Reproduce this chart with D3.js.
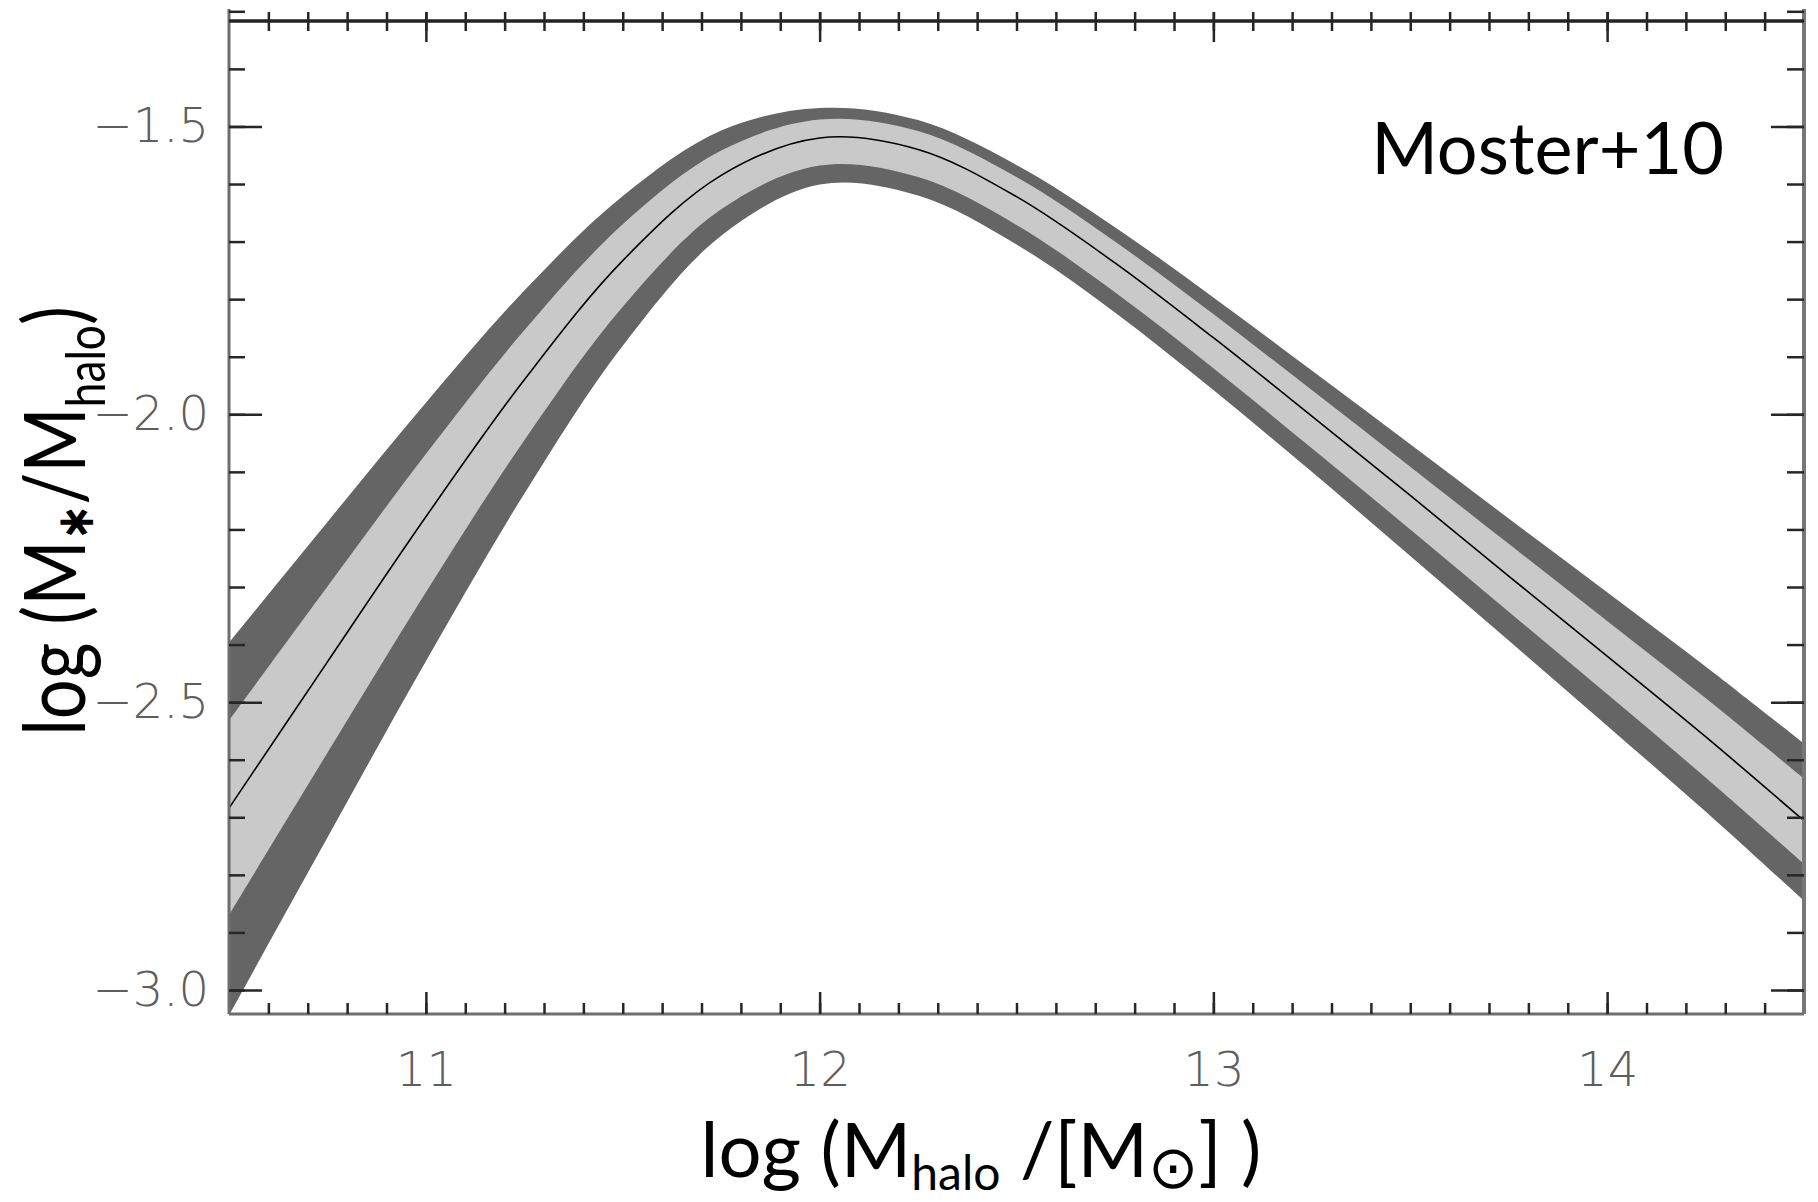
<!DOCTYPE html>
<html>
<head>
<meta charset="utf-8">
<script src="https://cdn.jsdelivr.net/npm/d3@7"></script>
<style>
  html, body { margin: 0; padding: 0; background: #fff; }
  svg { display: block; }
</style>
</head>
<body>
<div id="chart"></div>
<script>
// Halo mass grid (log M_halo) and the read-off stellar-to-halo mass relation
const logMhalo = [10.5, 10.75, 11.0, 11.25, 11.5, 11.75, 12.0, 12.25, 12.5,
                  12.75, 13.0, 13.25, 13.5, 13.75, 14.0, 14.25, 14.5];
const ratioMedian = [-2.684, -2.430, -2.178, -1.940, -1.733, -1.585, -1.520, -1.540, -1.622,
                     -1.737, -1.867, -2.003, -2.141, -2.281, -2.420, -2.560, -2.706];
// light band (inner)
const innerUpper = [-2.532, -2.299, -2.069, -1.854, -1.670, -1.542, -1.488, -1.508, -1.588,
                    -1.700, -1.826, -1.958, -2.091, -2.225, -2.359, -2.493, -2.633];
const innerLower = [-2.870, -2.588, -2.309, -2.045, -1.813, -1.644, -1.568, -1.588, -1.671,
                    -1.788, -1.920, -2.059, -2.200, -2.343, -2.486, -2.631, -2.781];
// dark band (outer)
const outerUpper = [-2.397, -2.187, -1.980, -1.785, -1.621, -1.507, -1.468, -1.489, -1.567,
                    -1.675, -1.797, -1.924, -2.052, -2.181, -2.309, -2.438, -2.572];
const outerLower = [-3.044, -2.735, -2.429, -2.138, -1.881, -1.690, -1.601, -1.620, -1.705,
                    -1.823, -1.958, -2.100, -2.246, -2.393, -2.541, -2.690, -2.845];

const xMajorTicks = [11, 12, 13, 14];
const xTickLabels = ["11", "12", "13", "14"];
const yMajorTicks = [-3.0, -2.5, -2.0, -1.5];
const yTickLabels = ["\u22123.0", "\u22122.5", "\u22122.0", "\u22121.5"];
const label = "Moster+10";

const width = 1818, height = 1202;
const plotLeft = 229, plotRight = 1804, plotTop = 9, plotBottom = 1014, topAxisY = 21;

const svg = d3.select("#chart").append("svg")
    .attr("width", width)
    .attr("height", height);

const x = d3.scaleLinear().domain([10.5, 14.5]).range([plotLeft, plotRight]);
const y = d3.scaleLinear().domain([-3.0417, -1.296]).range([plotBottom, plotTop]);

const rows = logMhalo.map((m, i) => ({
  m, med: ratioMedian[i],
  iu: innerUpper[i], il: innerLower[i],
  ou: outerUpper[i], ol: outerLower[i]
}));

svg.append("clipPath").attr("id", "plot-clip")
  .append("rect")
    .attr("x", plotLeft).attr("y", topAxisY)
    .attr("width", plotRight - plotLeft).attr("height", plotBottom - topAxisY);

const plot = svg.append("g").attr("clip-path", "url(#plot-clip)");
const curve = d3.curveCatmullRom.alpha(0.5);

plot.append("path")
    .datum(rows)
    .attr("fill", "#656565")
    .attr("d", d3.area().x(d => x(d.m)).y0(d => y(d.ol)).y1(d => y(d.ou)).curve(curve));

plot.append("path")
    .datum(rows)
    .attr("fill", "#c9c9c9")
    .attr("d", d3.area().x(d => x(d.m)).y0(d => y(d.il)).y1(d => y(d.iu)).curve(curve));

plot.append("path")
    .datum(rows)
    .attr("fill", "none")
    .attr("stroke", "#000")
    .attr("stroke-width", 1.6)
    .attr("d", d3.line().x(d => x(d.m)).y(d => y(d.med)).curve(curve));

// frame
const frame = svg.append("g");
frame.append("line").attr("x1", plotLeft).attr("x2", plotLeft).attr("y1", plotTop).attr("y2", plotBottom)
    .attr("stroke", "#6e6e6e").attr("stroke-width", 3);
frame.append("line").attr("x1", plotRight).attr("x2", plotRight).attr("y1", plotTop).attr("y2", plotBottom)
    .attr("stroke", "#777").attr("stroke-width", 4);
frame.append("line").attr("x1", plotLeft).attr("x2", plotRight).attr("y1", plotBottom).attr("y2", plotBottom)
    .attr("stroke", "#6e6e6e").attr("stroke-width", 3);
frame.append("line").attr("x1", plotLeft).attr("x2", plotRight).attr("y1", topAxisY).attr("y2", topAxisY)
    .attr("stroke", "#222").attr("stroke-width", 3.5);

const minorX = d3.range(106, 145).map(d => d / 10);
const minorY = d3.range(-30, -12).map(d => d / 10);

function styleTicks(g, w) {
  g.select(".domain").remove();
  g.selectAll(".tick line").attr("stroke", "#262626").attr("stroke-width", w);
  g.selectAll(".tick text").remove();
}

// bottom axis ticks (pointing up into the plot)
svg.append("g").attr("transform", `translate(0,${plotBottom})`)
    .call(d3.axisTop(x).tickValues(minorX).tickSize(11))
    .call(g => styleTicks(g, 2.5));
svg.append("g").attr("transform", `translate(0,${plotBottom})`)
    .call(d3.axisTop(x).tickValues(xMajorTicks).tickSize(22))
    .call(g => styleTicks(g, 2.5));

// top axis ticks cross the line
svg.append("g").attr("transform", `translate(0,${topAxisY})`)
    .call(d3.axisBottom(x).tickValues(minorX).tickSize(10))
    .call(g => styleTicks(g, 2.5))
    .call(g => g.selectAll(".tick line").attr("y1", -9));
svg.append("g").attr("transform", `translate(0,${topAxisY})`)
    .call(d3.axisBottom(x).tickValues(xMajorTicks).tickSize(21))
    .call(g => styleTicks(g, 2.5))
    .call(g => g.selectAll(".tick line").attr("y1", -9));

// left and right axis ticks
svg.append("g").attr("transform", `translate(${plotLeft},0)`)
    .call(d3.axisRight(y).tickValues(minorY).tickSize(16))
    .call(g => styleTicks(g, 2.5));
svg.append("g").attr("transform", `translate(${plotLeft},0)`)
    .call(d3.axisRight(y).tickValues(yMajorTicks).tickSize(33))
    .call(g => styleTicks(g, 2.5));
svg.append("g").attr("transform", `translate(${plotRight},0)`)
    .call(d3.axisLeft(y).tickValues(minorY).tickSize(17))
    .call(g => styleTicks(g, 2.5));
svg.append("g").attr("transform", `translate(${plotRight},0)`)
    .call(d3.axisLeft(y).tickValues(yMajorTicks).tickSize(33))
    .call(g => styleTicks(g, 2.5));

// tick labels
const tickFont = g => g.selectAll("text")
    .attr("font-family", "'DejaVu Sans', sans-serif")
    .attr("font-weight", 200)
    .attr("font-size", 48)
    .attr("fill", "#5e5e5e");

svg.append("g").attr("transform", `translate(0,${plotBottom})`)
    .call(d3.axisBottom(x).tickValues(xMajorTicks).tickSize(0).tickPadding(38)
      .tickFormat((d, i) => xTickLabels[i]))
    .call(g => g.select(".domain").remove())
    .call(tickFont);

svg.append("g").attr("transform", `translate(${plotLeft},0)`)
    .call(d3.axisLeft(y).tickValues(yMajorTicks).tickSize(0).tickPadding(20)
      .tickFormat((d, i) => yTickLabels[i]))
    .call(g => g.select(".domain").remove())
    .call(tickFont);

// axis titles
const titleFont = "Lato, 'Open Sans', sans-serif";

const xt = svg.append("text")
    .attr("x", 981).attr("y", 1177)
    .attr("text-anchor", "middle")
    .attr("font-family", titleFont)
    .attr("font-size", 76)
    .attr("fill", "#000");
xt.append("tspan").text("log (M");
xt.append("tspan").attr("font-size", 48).attr("dy", 13).text("halo");
xt.append("tspan").attr("dy", -13).text(" /[M");
xt.append("tspan").attr("font-size", 60).attr("dy", 11)
    .attr("font-family", "'DejaVu Sans', sans-serif").text("\u2299");
xt.append("tspan").attr("dy", -11).text("] )");

const yt = svg.append("text")
    .attr("transform", "translate(85,521) rotate(-90) scale(0.82,1)")
    .attr("text-anchor", "middle")
    .attr("font-family", titleFont)
    .attr("font-size", 86)
    .attr("fill", "#000");
yt.append("tspan").text("log (M");
yt.append("tspan").attr("font-size", 52).attr("font-weight", "bold").attr("dy", 8)
    .attr("font-family", "'DejaVu Sans', sans-serif").text("\u2217");
yt.append("tspan").attr("dy", -8).text("/M");
yt.append("tspan").attr("font-size", 54).attr("dy", 20).text("halo");
yt.append("tspan").attr("dy", -20).text(")");

svg.append("text")
    .attr("x", 1724).attr("y", 174)
    .attr("text-anchor", "end")
    .attr("font-family", titleFont)
    .attr("font-size", 72)
    .attr("fill", "#000")
    .text(label);
</script>
</body>
</html>
